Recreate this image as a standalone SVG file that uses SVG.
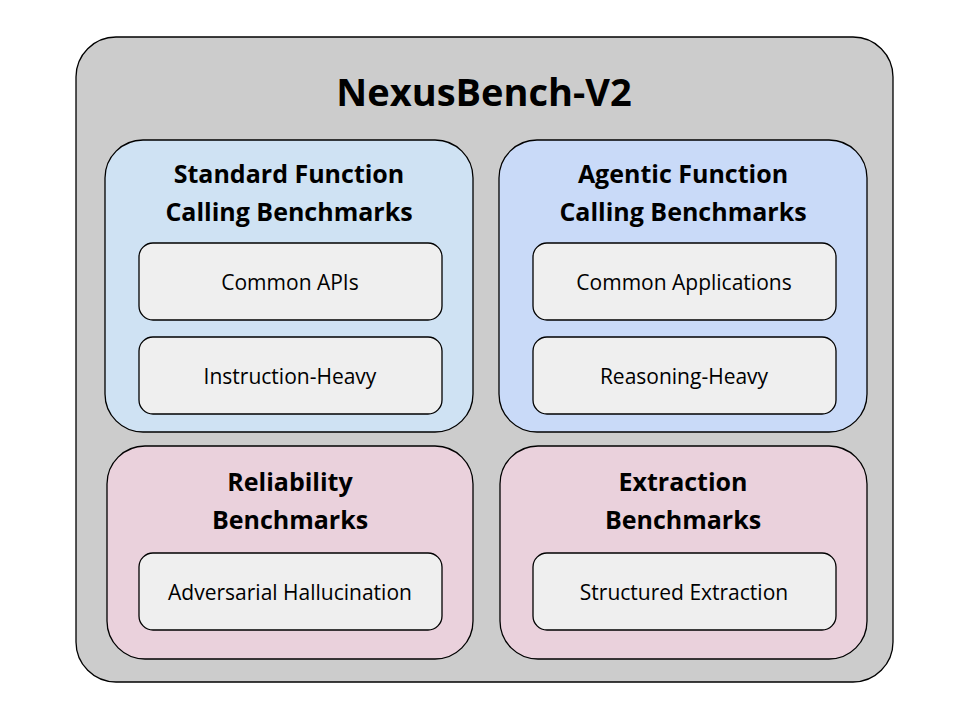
<svg xmlns="http://www.w3.org/2000/svg" width="960" height="720" viewBox="0 0 960 720">
<style>
text{font-family:"Open Sans","Noto Sans",sans-serif;text-anchor:middle;fill:#000}
.t{font-size:38px;font-weight:bold}
.h{font-size:25px;font-weight:bold}
.b{font-size:21px}
.p{stroke:#000;stroke-width:1.3}
.box{fill:#efefef;stroke:#000;stroke-width:1.3}
</style>
<rect width="960" height="720" fill="#fff"/>
<g id="outer"><rect x="76" y="37" width="817" height="645" rx="40" fill="#cccccc" class="p"/>
<text class="t" x="484" y="106">NexusBench-V2</text></g>
<g id="standard"><rect x="105" y="140" width="368" height="292" rx="38" fill="#cfe2f3" class="p"/>
<text class="h" x="289" y="183">Standard Function</text><text class="h" x="289" y="221">Calling Benchmarks</text></g>
<g id="agentic"><rect x="499" y="140" width="368" height="292" rx="38" fill="#c9daf8" class="p"/>
<text class="h" x="683" y="183">Agentic Function</text><text class="h" x="683" y="221">Calling Benchmarks</text></g>
<g id="reliability"><rect x="107" y="446" width="366" height="213" rx="38" fill="#ead1dc" class="p"/>
<text class="h" x="290" y="491">Reliability</text><text class="h" x="290" y="529">Benchmarks</text></g>
<g id="extraction"><rect x="500" y="446" width="367" height="213" rx="38" fill="#ead1dc" class="p"/>
<text class="h" x="683" y="491">Extraction</text><text class="h" x="683" y="529">Benchmarks</text></g>
<g id="common-apis"><rect class="box" x="139" y="243" width="303" height="77" rx="14"/><text class="b" x="290" y="290">Common APIs</text></g>
<g id="instruction-heavy"><rect class="box" x="139" y="337" width="303" height="77" rx="14"/><text class="b" x="290" y="384">Instruction-Heavy</text></g>
<g id="common-apps"><rect class="box" x="533" y="243" width="303" height="77" rx="14"/><text class="b" x="684" y="290">Common Applications</text></g>
<g id="reasoning-heavy"><rect class="box" x="533" y="337" width="303" height="77" rx="14"/><text class="b" x="684" y="384">Reasoning-Heavy</text></g>
<g id="adversarial"><rect class="box" x="139" y="553" width="303" height="77" rx="14"/><text class="b" x="290" y="600">Adversarial Hallucination</text></g>
<g id="structured"><rect class="box" x="533" y="553" width="303" height="77" rx="14"/><text class="b" x="684" y="600">Structured Extraction</text></g>
<g id="connectors"/>
</svg>
